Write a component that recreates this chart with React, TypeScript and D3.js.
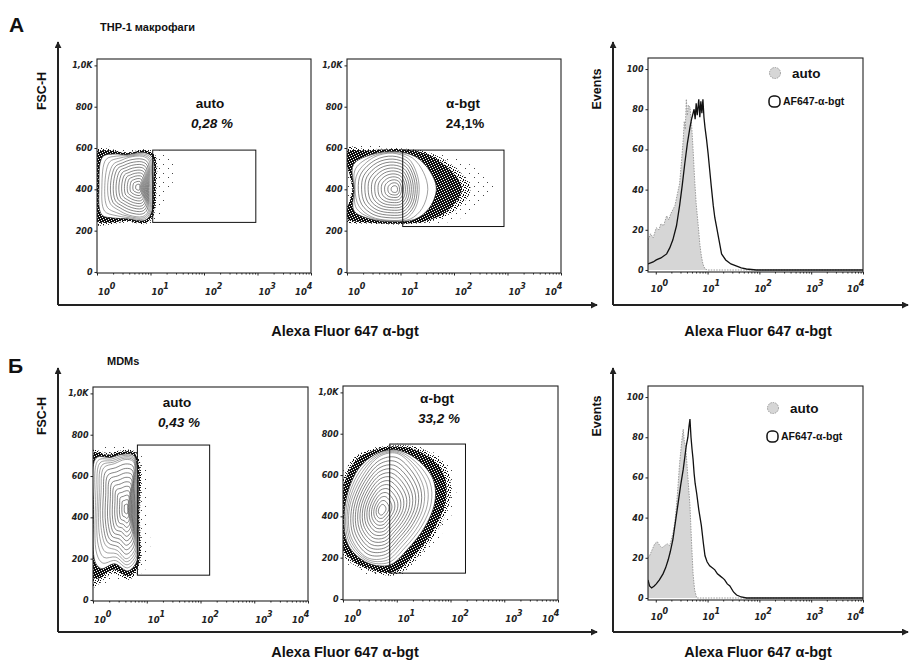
import { useEffect, useRef } from "react";
import * as d3 from "d3";

type Pt = [number, number];

// ---- data: dot plots, points are [log10 fluorescence, FSC-H] ----
const thpAutoHalo: Pt[] = [[0, 592], [0.6, 594], [1.1, 592], [1.4, 560], [1.45, 470], [1.25, 330], [1.1, 236], [0.6, 230], [0, 234]];
const thpAutoOuter: Pt[] = [[0, 578], [0.25, 588], [0.55, 575], [0.9, 588], [1.07, 562], [1.09, 410], [1.05, 283], [0.92, 240], [0.55, 248], [0.25, 240], [0, 248], [-0.05, 410]];
const thpAutoInner: Pt[] = [[0.3, 520], [0.45, 540], [0.6, 555], [0.85, 560], [0.97, 540], [0.98, 410], [0.95, 290], [0.85, 268], [0.6, 275], [0.4, 300], [0.25, 330], [0.2, 420]];
const thpAutoCore: Pt = [0.78, 410];
const thpAutoGate = [11, 930, 240, 590];

const thpBgtHalo: Pt[] = [[0, 592], [1.0, 600], [1.6, 582], [2.3, 520], [2.75, 420], [2.4, 300], [1.8, 236], [1.0, 228], [0, 250]];
const thpBgtOuter: Pt[] = [[0, 578], [0.4, 588], [1.0, 594], [1.5, 570], [1.95, 490], [2.15, 400], [1.9, 300], [1.5, 248], [1.0, 234], [0.4, 240], [0, 260], [0.1, 400]];
const thpBgtInner: Pt[] = [[0.2, 480], [0.5, 555], [0.85, 575], [1.15, 548], [1.3, 480], [1.35, 400], [1.28, 310], [1.1, 258], [0.8, 250], [0.45, 268], [0.22, 320], [0.15, 400]];
const thpBgtCore: Pt = [0.9, 400];
const thpBgtGate = [11, 860, 220, 590];

const mdmAutoHalo: Pt[] = [[0, 722], [0.8, 724], [0.98, 650], [1.05, 420], [0.98, 150], [0.6, 104], [0, 92]];
const mdmAutoOuter: Pt[] = [[0, 708], [0.3, 703], [0.5, 715], [0.75, 715], [0.85, 660], [0.86, 400], [0.84, 168], [0.66, 115], [0.38, 147], [0.12, 105], [0, 107], [-0.05, 400]];
const mdmAutoInner: Pt[] = [[0.2, 640], [0.4, 660], [0.6, 680], [0.75, 670], [0.78, 560], [0.79, 400], [0.77, 240], [0.62, 200], [0.45, 240], [0.25, 260], [0.15, 350], [0.15, 520]];
const mdmAutoCore: Pt = [0.63, 440];
const mdmAutoGate = [6.7, 148, 120, 750];

const mdmBgtHalo: Pt[] = [[0, 620], [0.3, 702], [0.9, 750], [1.5, 732], [2.0, 640], [2.1, 480], [1.85, 320], [1.4, 168], [1.0, 112], [0.4, 122], [0, 200]];
const mdmBgtOuter: Pt[] = [[-0.05, 450], [0.2, 660], [0.6, 722], [1.0, 738], [1.45, 712], [1.85, 620], [1.92, 490], [1.7, 340], [1.3, 205], [0.95, 130], [0.5, 145], [0.05, 220]];
const mdmBgtInner: Pt[] = [[0.12, 440], [0.35, 590], [0.68, 690], [1.0, 705], [1.3, 640], [1.5, 540], [1.5, 450], [1.35, 360], [1.08, 270], [0.8, 200], [0.45, 200], [0.15, 300]];
const mdmBgtCore: Pt = [0.72, 430];
const mdmBgtGate = [7.4, 190, 125, 750];

const gateTitles = ["auto", "α-bgt", "auto", "α-bgt"];
const gatePercents = ["0,28 %", "24,1%", "0,43 %", "33,2 %"];

// ---- data: histograms, points are [log10 fluorescence, events] ----
const thpAutoHist: Pt[] = [[-0.15, 15], [-0.1, 18], [-0.05, 16], [0.01, 21], [0.06, 20], [0.1, 23], [0.15, 22], [0.21, 27], [0.25, 25], [0.29, 28], [0.33, 30], [0.37, 32], [0.41, 37], [0.46, 43], [0.5, 55], [0.53, 65], [0.55, 74], [0.57, 70], [0.59, 85], [0.61, 77], [0.63, 82], [0.66, 81], [0.69, 73], [0.72, 60], [0.75, 45], [0.78, 33], [0.82, 22], [0.85, 13], [0.88, 7], [0.91, 3], [0.95, 0.5], [1.0, 0], [4, 0]];
const thpBgtHist: Pt[] = [[-0.15, 3], [-0.05, 4], [0.01, 5], [0.1, 6], [0.21, 8], [0.27, 11], [0.33, 15], [0.4, 22], [0.46, 32], [0.51, 42], [0.56, 53], [0.61, 63], [0.66, 71], [0.69, 75], [0.72, 78], [0.74, 80], [0.76, 75], [0.78, 83], [0.8, 77], [0.83, 85], [0.85, 76], [0.87, 84], [0.89, 78], [0.91, 85], [0.93, 76], [0.95, 71], [0.98, 65], [1.01, 58], [1.04, 50], [1.07, 42], [1.11, 32], [1.14, 26], [1.17, 22], [1.22, 15], [1.27, 8], [1.35, 5], [1.45, 3], [1.55, 2], [1.65, 1], [1.75, 0.5], [1.94, 0], [4, 0]];
const mdmAutoHist: Pt[] = [[-0.15, 20], [-0.12, 21], [-0.07, 24], [-0.02, 27], [0.03, 28], [0.08, 26], [0.12, 25], [0.17, 26], [0.22, 27], [0.27, 26], [0.3, 29], [0.33, 32], [0.37, 38], [0.4, 46], [0.43, 56], [0.46, 67], [0.49, 75], [0.51, 80], [0.53, 84], [0.55, 78], [0.57, 76], [0.59, 71], [0.62, 60], [0.66, 46], [0.69, 28], [0.72, 12], [0.75, 4], [0.79, 0], [4, 0]];
const mdmBgtHist: Pt[] = [[-0.15, 9], [-0.12, 6], [-0.08, 5], [-0.03, 6], [0.01, 7], [0.07, 9], [0.14, 12], [0.19, 15], [0.24, 19], [0.28, 23], [0.33, 29], [0.38, 38], [0.43, 47], [0.48, 56], [0.53, 64], [0.56, 70], [0.59, 76], [0.62, 80], [0.64, 85], [0.66, 89], [0.68, 80], [0.7, 74], [0.72, 69], [0.74, 62], [0.76, 57], [0.79, 52], [0.83, 44], [0.88, 36], [0.92, 27], [0.95, 21], [0.99, 18], [1.04, 16], [1.09, 15], [1.14, 14], [1.19, 12], [1.24, 11], [1.29, 10], [1.33, 9], [1.38, 7], [1.43, 6], [1.5, 3], [1.56, 1.5], [1.65, 0.5], [1.75, 0], [4, 0]];

const legendLabels = ["auto", "AF647-α-bgt"];

// ---- ticks ----
const decades = [0, 1, 2, 3, 4];
const fscTicks = [0, 200, 400, 600, 800, 1000];
const fscTickLabels = ["0", "200", "400", "600", "800", "1,0K"];
const eventTicks = [0, 20, 40, 60, 80, 100];

const panelLetters = ["А", "Б"];
const rowTitles = ["THP-1 макрофаги", "MDMs"];
const axisTitle = "Alexa Fluor 647 α-bgt";

const FONT = "'Liberation Sans', Arial, sans-serif";
const TICK_FONT = "'DejaVu Sans', sans-serif";

const dotPanels = [
  { box: [97, 59, 214, 214], outer: thpAutoOuter, inner: thpAutoInner, core: thpAutoCore, halo: thpAutoHalo, gate: thpAutoGate, i: 0, italic: true, lab: [113, 49], fringe: 0.35, nOut: 3, nIn: 10 },
  { box: [347, 59, 214, 214], outer: thpBgtOuter, inner: thpBgtInner, core: thpBgtCore, halo: thpBgtHalo, gate: thpBgtGate, i: 1, italic: false, lab: [116, 49], fringe: 0.6, nOut: 2, nIn: 11 },
  { box: [93, 387, 215, 214], outer: mdmAutoOuter, inner: mdmAutoInner, core: mdmAutoCore, halo: mdmAutoHalo, gate: mdmAutoGate, i: 2, italic: true, lab: [84, 20], fringe: 0.3, nOut: 4, nIn: 10 },
  { box: [343, 386, 215, 214], outer: mdmBgtOuter, inner: mdmBgtInner, core: mdmBgtCore, halo: mdmBgtHalo, gate: mdmBgtGate, i: 3, italic: true, lab: [94, 17], fringe: 0.5, nOut: 3, nIn: 13 },
];

const histPanels = [
  { box: [648, 58, 215, 214], auto: thpAutoHist, stained: thpBgtHist, leg: [127, 15] },
  { box: [648, 386, 215, 214], auto: mdmAutoHist, stained: mdmBgtHist, leg: [125, 22] },
];

function ring(outer: Pt[], inner: Pt[], core: Pt, s: number): Pt[] {
  return outer.map((p, k) => {
    const q = inner[k];
    if (s <= 1) return [p[0] + (q[0] - p[0]) * s, p[1] + (q[1] - p[1]) * s] as Pt;
    const t = s - 1;
    return [q[0] + (core[0] - q[0]) * t, q[1] + (core[1] - q[1]) * t] as Pt;
  });
}

const App = () => {
  const ref = useRef<SVGSVGElement>(null);

  useEffect(() => {
    document.body.style.margin = "0";
    const svg = d3.select(ref.current);
    svg.selectAll("*").remove();
    const defs = svg.append("defs");

    // speckle patterns for the dense event fringe
    const pattern = (id: string, size: number, bg: string, dot: string, dots: number[][]) => {
      const p = defs.append("pattern").attr("id", id).attr("width", size).attr("height", size).attr("patternUnits", "userSpaceOnUse");
      if (bg !== "none") p.append("rect").attr("width", size).attr("height", size).attr("fill", bg);
      dots.forEach((d) => p.append("rect").attr("x", d[0]).attr("y", d[1]).attr("width", 1).attr("height", 1).attr("fill", dot));
    };
    pattern("dense", 5, "#111", "#fff", [[1, 0], [4, 1], [2, 2], [0, 3], [3, 4]]);
    pattern("mid", 5, "#fff", "#111", [[0, 0], [2, 1], [4, 2], [1, 3], [3, 4], [3, 0], [0, 2]]);
    pattern("sparse", 9, "none", "#444", [[1, 2], [6, 6]]);

    defs.append("marker").attr("id", "arrow").attr("viewBox", "0 0 8 8").attr("refX", 7).attr("refY", 4)
      .attr("markerWidth", 7).attr("markerHeight", 7).attr("markerUnits", "userSpaceOnUse").attr("orient", "auto")
      .append("path").attr("d", "M0,0 L8,4 L0,8 z").attr("fill", "#222");

    // big axes framing each row
    [[305, 42], [632, 368]].forEach(([yb, yt]) => {
      svg.append("line").attr("x1", 58).attr("y1", yb).attr("x2", 58).attr("y2", yt).attr("stroke", "#222").attr("stroke-width", 2).attr("marker-end", "url(#arrow)");
      svg.append("line").attr("x1", 58).attr("y1", yb).attr("x2", 597).attr("y2", yb).attr("stroke", "#222").attr("stroke-width", 2).attr("marker-end", "url(#arrow)");
      svg.append("line").attr("x1", 613).attr("y1", yb).attr("x2", 613).attr("y2", yt).attr("stroke", "#222").attr("stroke-width", 2).attr("marker-end", "url(#arrow)");
      svg.append("line").attr("x1", 613).attr("y1", yb).attr("x2", 908).attr("y2", yb).attr("stroke", "#222").attr("stroke-width", 2).attr("marker-end", "url(#arrow)");
    });

    const txt = (x: number, y: number, s: string, size: number, opts: any = {}) =>
      svg.append("text").attr("x", x).attr("y", y).attr("font-family", FONT).attr("font-weight", "bold")
        .attr("font-size", size).attr("font-style", opts.italic ? "italic" : "normal")
        .attr("text-anchor", opts.anchor || "start").attr("fill", "#111")
        .attr("transform", opts.rotate ? `rotate(-90,${x},${y})` : null).text(s);

    txt(9, 32, panelLetters[0], 21);
    txt(8, 373, panelLetters[1], 21);
    txt(100, 31, rowTitles[0], 11);
    txt(107, 365, rowTitles[1], 11);
    txt(46, 91, "FSC-H", 12.5, { rotate: true, anchor: "middle" });
    txt(46, 416, "FSC-H", 12.5, { rotate: true, anchor: "middle" });
    txt(601, 89, "Events", 12.5, { rotate: true, anchor: "middle" });
    txt(601, 416, "Events", 12.5, { rotate: true, anchor: "middle" });
    txt(345, 336, axisTitle, 14.5, { anchor: "middle" });
    txt(758, 336, axisTitle, 14.5, { anchor: "middle" });
    txt(345, 657, axisTitle, 14.5, { anchor: "middle" });
    txt(758, 657, axisTitle, 14.5, { anchor: "middle" });

    const decadeLabels = (g: any, x: any, y0: number, shift: number) => {
      decades.forEach((e) => {
        const px = x(Math.pow(10, e));
        const t = g.append("text").attr("y", y0).attr("font-family", TICK_FONT).attr("font-weight", "bold")
          .attr("font-style", "italic").attr("font-size", 8.5).attr("fill", "#222");
        const x0 = e === 4 ? px - 16 : px + shift;
        t.append("tspan").attr("x", x0).text("10");
        t.append("tspan").attr("dy", -6).attr("font-size", 8).text(String(e));
      });
    };

    const styleAxis = (g: any) => {
      g.select(".domain").remove();
      g.selectAll("line").attr("stroke", "#222");
      g.selectAll("text").attr("font-family", TICK_FONT).attr("font-weight", "bold").attr("font-style", "italic")
        .attr("font-size", 8).attr("fill", "#222");
    };

    const minor: number[] = [];
    [0, 1, 2, 3].forEach((e) => [2, 3, 4, 5, 6, 7, 8, 9].forEach((m) => minor.push(m * Math.pow(10, e))));

    // ---- dot plots ----
    dotPanels.forEach((p, pi) => {
      const [bx, by, bw, bh] = p.box;
      const x = d3.scaleLog().domain([1, 1e4]).range([bx, bx + bw]);
      const y = d3.scaleLinear().domain([-5, 1031]).range([by + bh, by]);
      const cid = `clip-dot-${pi}`;
      defs.append("clipPath").attr("id", cid).append("rect").attr("x", bx).attr("y", by).attr("width", bw).attr("height", bh);
      const g = svg.append("g").attr("clip-path", `url(#${cid})`);
      const line = d3.line<Pt>().x((d) => x(Math.pow(10, d[0]))).y((d) => y(d[1])).curve(d3.curveCatmullRomClosed.alpha(0.5));

      g.append("path").attr("d", line(p.halo)).attr("fill", "url(#sparse)");
      g.append("path").attr("d", line(ring(p.outer, p.inner, p.core, -0.2))).attr("fill", "url(#mid)");
      g.append("path").attr("d", line(ring(p.outer, p.inner, p.core, 0))).attr("fill", "url(#dense)");
      g.append("path").attr("d", line(ring(p.outer, p.inner, p.core, p.fringe))).attr("fill", "#fff").attr("stroke", "#222").attr("stroke-width", 0.7);
      for (let k = 1; k <= p.nOut; k++) {
        const s = p.fringe + ((1 - p.fringe) * k) / p.nOut;
        g.append("path").attr("d", line(ring(p.outer, p.inner, p.core, s))).attr("fill", "none").attr("stroke", "#555").attr("stroke-width", 0.55);
      }
      for (let k = 1; k <= p.nIn; k++) {
        const s = 1 + (0.9 * k) / p.nIn;
        g.append("path").attr("d", line(ring(p.outer, p.inner, p.core, s))).attr("fill", "none").attr("stroke", "#333").attr("stroke-width", 0.6);
      }

      // gate
      const [g0, g1, f0, f1] = p.gate;
      svg.append("rect").attr("x", x(g0)).attr("y", y(f1)).attr("width", x(g1) - x(g0)).attr("height", y(f0) - y(f1))
        .attr("fill", "none").attr("stroke", "#111").attr("stroke-width", 1);
      svg.append("rect").attr("x", bx).attr("y", by).attr("width", bw).attr("height", bh).attr("fill", "none").attr("stroke", "#222").attr("stroke-width", 1.1);

      txt(bx + p.lab[0], by + p.lab[1], gateTitles[p.i], 13.5, { anchor: "middle" });
      txt(bx + p.lab[0] + 2, by + p.lab[1] + 20, gatePercents[p.i], 13.5, { anchor: "middle", italic: p.italic });

      const ax = svg.append("g").attr("transform", `translate(0,${by + bh})`);
      ax.call(d3.axisBottom(x).tickValues(decades.map((e) => Math.pow(10, e))).tickSize(2.5).tickFormat(() => ""));
      styleAxis(ax);
      const axm = svg.append("g").attr("transform", `translate(0,${by + bh})`);
      axm.call(d3.axisBottom(x).tickValues(minor).tickSize(1.5).tickFormat(() => ""));
      styleAxis(axm);
      decadeLabels(svg, x, by + bh + 21.5, 1);

      const ay = svg.append("g").attr("transform", `translate(${bx},0)`);
      ay.call(d3.axisLeft(y).tickValues(fscTicks).tickSize(2.5).tickPadding(2).tickFormat((d, k) => fscTickLabels[k]));
      styleAxis(ay);
    });

    // ---- histograms ----
    histPanels.forEach((p, pi) => {
      const [bx, by, bw, bh] = p.box;
      const x = d3.scaleLog().domain([Math.pow(10, -0.15), 1e4]).range([bx, bx + bw]);
      const y = d3.scaleLinear().domain([-1, 105.5]).range([by + bh, by]);
      const cid = `clip-hist-${pi}`;
      defs.append("clipPath").attr("id", cid).append("rect").attr("x", bx).attr("y", by).attr("width", bw).attr("height", bh);
      const g = svg.append("g").attr("clip-path", `url(#${cid})`);
      const area = d3.area<Pt>().x((d) => x(Math.pow(10, d[0]))).y0(y(0)).y1((d) => y(d[1]));
      const line = d3.line<Pt>().x((d) => x(Math.pow(10, d[0]))).y((d) => y(d[1]));

      g.append("path").attr("d", area(p.auto)).attr("fill", "#d6d6d6");
      g.append("path").attr("d", line(p.auto)).attr("fill", "none").attr("stroke", "#9a9a9a").attr("stroke-width", 1).attr("stroke-dasharray", "1.5 1.2");
      g.append("path").attr("d", line(p.stained)).attr("fill", "none").attr("stroke", "#111").attr("stroke-width", 1.3);

      svg.append("rect").attr("x", bx).attr("y", by).attr("width", bw).attr("height", bh).attr("fill", "none").attr("stroke", "#222").attr("stroke-width", 1.1);

      const ax = svg.append("g").attr("transform", `translate(0,${by + bh})`);
      ax.call(d3.axisBottom(x).tickValues(decades.map((e) => Math.pow(10, e))).tickSize(2.5).tickFormat(() => ""));
      styleAxis(ax);
      const axm = svg.append("g").attr("transform", `translate(0,${by + bh})`);
      axm.call(d3.axisBottom(x).tickValues(minor).tickSize(1.5).tickFormat(() => ""));
      styleAxis(axm);
      decadeLabels(svg, x, by + bh + 20, -5);

      const ay = svg.append("g").attr("transform", `translate(${bx},0)`);
      ay.call(d3.axisLeft(y).tickValues(eventTicks).tickSize(2.5).tickPadding(2));
      styleAxis(ay);

      // legend
      const lx = bx + p.leg[0], ly = by + p.leg[1];
      svg.append("circle").attr("cx", lx).attr("cy", ly).attr("r", 5.5).attr("fill", "#d6d6d6").attr("stroke", "#9a9a9a").attr("stroke-dasharray", "1.5 1");
      txt(lx + 17, ly + 5, legendLabels[0], 13.5);
      svg.append("rect").attr("x", lx - 6).attr("y", ly + 23).attr("width", 11).attr("height", 11).attr("rx", 4.5)
        .attr("fill", "none").attr("stroke", "#111").attr("stroke-width", 1.5);
      txt(lx + 8, ly + 32, legendLabels[1], 10.5);
    });
  }, []);

  return (
    <div style={{ width: 910, height: 666, background: "#fff" }}>
      <svg ref={ref} width={910} height={666} style={{ display: "block", background: "#fff" }} />
    </div>
  );
};

export default App;
